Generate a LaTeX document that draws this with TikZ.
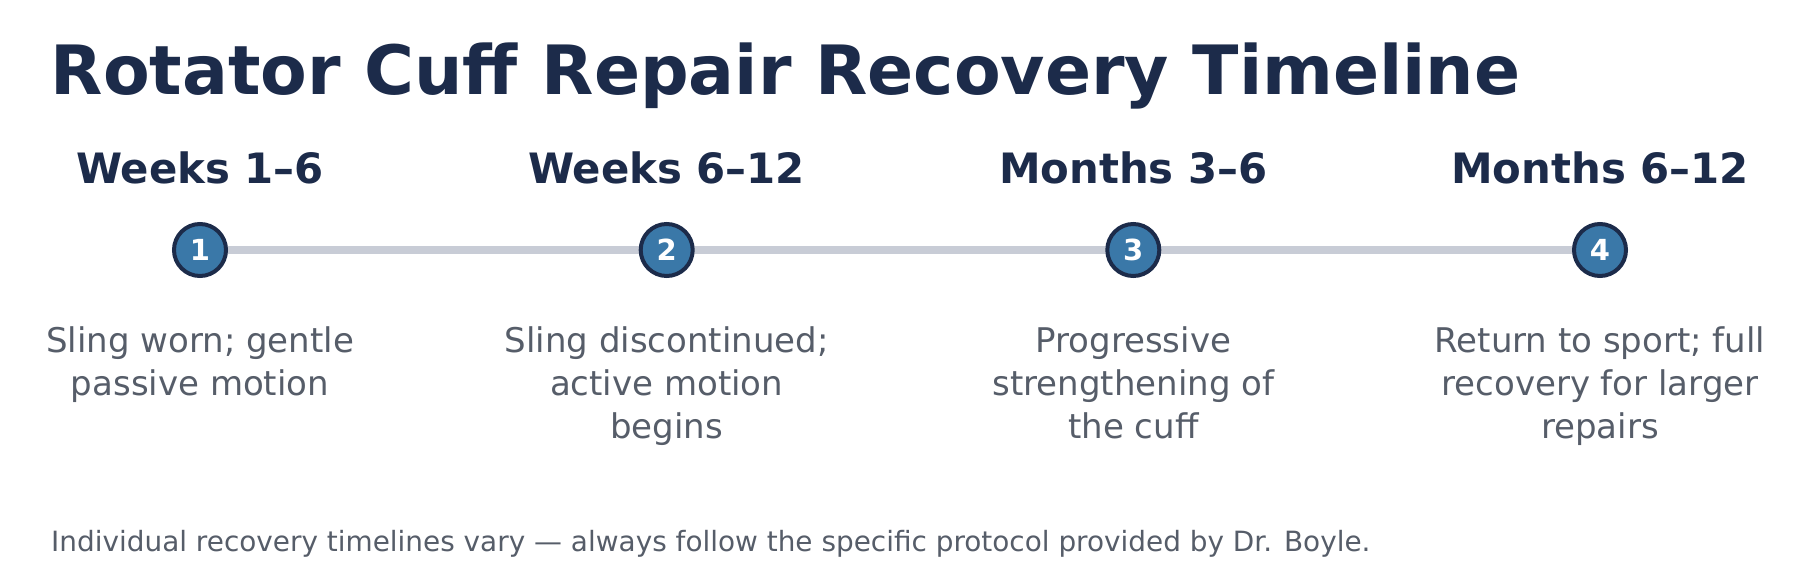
\documentclass[tikz,border=0pt]{standalone}
\usepackage{fontspec}
\setmainfont{DejaVu Sans}
\usetikzlibrary{backgrounds}
\definecolor{navy}{HTML}{1C2B4A}
\definecolor{stageblue}{HTML}{3A78A8}
\definecolor{descgray}{HTML}{565D69}
\definecolor{trackgray}{HTML}{C8CCD6}
\begin{document}
\begin{tikzpicture}[
  x=1pt, y=-1pt,
  title/.style = {anchor=base west, inner sep=0pt, text=navy, font=\fontsize{68}{80}\selectfont\bfseries},
  period/.style = {anchor=base, inner sep=0pt, text=navy, font=\fontsize{41.8}{50}\selectfont\bfseries},
  stage/.style = {circle, draw=navy, line width=4pt, fill=stageblue, minimum size=52pt, inner sep=0pt, text=white, font=\fontsize{29}{34}\selectfont\bfseries},
  desc/.style = {anchor=north, align=center, inner sep=0pt, text=descgray, font=\fontsize{34}{43.3}\selectfont},
  note/.style = {anchor=base west, inner sep=0pt, text=descgray, font=\fontsize{27.9}{33}\selectfont},
  track/.style = {draw=trackgray, line width=8pt}
  ]
  \useasboundingbox (0,0) rectangle (1800,580);

  \node[title] (title) at (50.5,95) {Rotator Cuff Repair Recovery Timeline};

  \node[period] (p1) at (200,184) {Weeks 1–6};
  \node[period] (p2) at (666.7,184) {Weeks 6–12};
  \node[period] (p3) at (1133.3,184) {Months 3–6};
  \node[period] (p4) at (1600,184) {Months 6–12};

  \node[stage] (s1) at (200,250) {1};
  \node[stage] (s2) at (666.7,250) {2};
  \node[stage] (s3) at (1133.3,250) {3};
  \node[stage] (s4) at (1600,250) {4};

  \begin{scope}[on background layer]
    \fill[white] (0,0) rectangle (1800,580);
    \draw[track] (s1.center) -- (s2.center);
    \draw[track] (s2.center) -- (s3.center);
    \draw[track] (s3.center) -- (s4.center);
  \end{scope}

  \node[desc] (d1) at (200,326) {Sling worn; gentle\\passive motion};
  \node[desc] (d2) at (666.7,326) {Sling discontinued;\\active motion\\begins};
  \node[desc] (d3) at (1133.3,326) {Progressive\\strengthening of\\the cuff};
  \node[desc] (d4) at (1600,326) {Return to sport; full\\recovery for larger\\repairs};

  \node[note] (note) at (51,551) {Individual recovery timelines vary — always follow the specific protocol provided by Dr. Boyle.};

\end{tikzpicture}
\end{document}
